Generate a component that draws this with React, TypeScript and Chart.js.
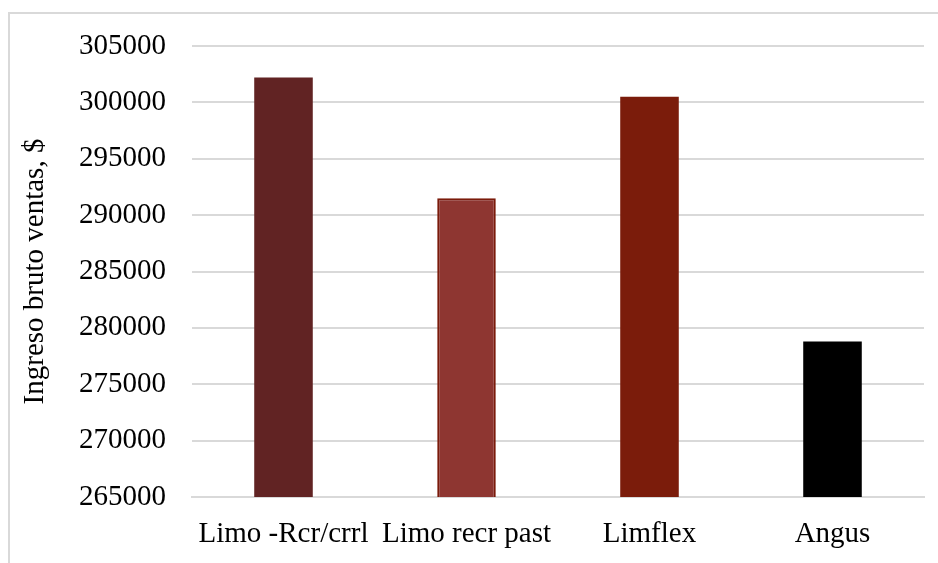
import React, { useEffect, useRef } from "react";
import { Chart, registerables } from "chart.js";

Chart.register(...registerables);

const categories = ["Limo -Rcr/crrl", "Limo recr past", "Limflex", "Angus"];
const ingresoBruto = [302200, 291500, 300500, 278800];
const barColors = ["#612323", "#8E3631", "#7B1C0B", "#000000"];
const barBorders = ["#612323", "#7A1A0A", "#7B1C0B", "#000000"];
const barBorderWidths = [0, 2, 0, 0];
const yMin = 265000;
const yMax = 305000;
const yStep = 5000;

const FONT = "'Liberation Serif', 'Times New Roman', serif";

export default function App() {
  const canvasRef = useRef<HTMLCanvasElement | null>(null);

  useEffect(() => {
    if (!canvasRef.current) return;
    const chart = new Chart(canvasRef.current, {
      type: "bar",
      data: {
        labels: categories,
        datasets: [
          {
            data: ingresoBruto,
            backgroundColor: barColors,
            borderColor: barBorders,
            borderWidth: barBorderWidths,
            barPercentage: 0.4,
            categoryPercentage: 0.8,
          },
        ],
      },
      options: {
        animation: false,
        responsive: false,
        maintainAspectRatio: false,
        layout: { padding: { left: 0, right: 14, top: 46, bottom: 0 } },
        plugins: {
          legend: { display: false },
          tooltip: { enabled: false },
        },
        scales: {
          x: {
            grid: { display: false, drawTicks: false },
            border: { display: true, color: "#d9d9d9", width: 2 },
            ticks: {
              color: "#000",
              font: { family: FONT, size: 29 },
              padding: 20,
              maxRotation: 0,
              autoSkip: false,
            },
            afterFit: (scale: any) => {
              scale.height = 66;
            },
          },
          y: {
            min: yMin,
            max: yMax,
            grid: { color: "#d9d9d9", lineWidth: 2, drawTicks: false },
            border: { display: false },
            ticks: {
              stepSize: yStep,
              color: "#000",
              font: { family: FONT, size: 29 },
              padding: 26,
              callback: (v: any) => String(v),
            },
            title: {
              display: true,
              text: "Ingreso bruto ventas, $",
              color: "#000",
              font: { family: FONT, size: 29 },
              padding: { top: 18, bottom: 0 },
            },
            afterFit: (scale: any) => {
              scale.width = 192;
            },
          },
        },
      },
    });
    return () => chart.destroy();
  }, []);

  return (
    <div
      style={{
        position: "fixed",
        left: 0,
        top: 0,
        width: 938,
        height: 563,
        overflow: "hidden",
        background: "#fff",
      }}
    >
      <div
        style={{
          position: "absolute",
          left: 8,
          top: 12,
          width: 1000,
          height: 1000,
          border: "2px solid #d9d9d9",
          boxSizing: "border-box",
        }}
      />
      <canvas
        ref={canvasRef}
        width={938}
        height={563}
        style={{ position: "absolute", left: 0, top: 0, width: 938, height: 563 }}
      />
    </div>
  );
}
